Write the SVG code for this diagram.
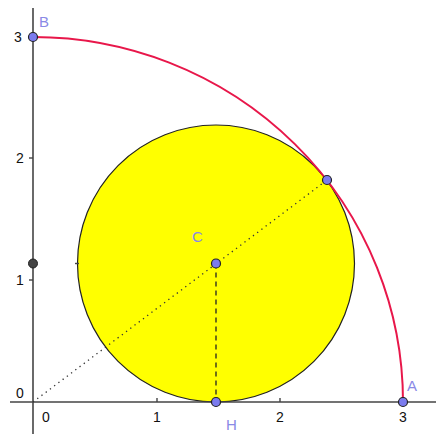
<svg xmlns="http://www.w3.org/2000/svg" width="436" height="434" viewBox="0 0 436 434">
<style>
.axis{stroke:#444;stroke-width:1.6;fill:none}
.tick{stroke:#444;stroke-width:1.4}
.num{font-family:"Liberation Sans",Arial,sans-serif;font-size:14px;fill:#111;text-anchor:middle}
.lbl{font-family:"Liberation Sans",Arial,sans-serif;font-size:15px;fill:#8a8ae6}
.pt{fill:#7b7bee;stroke:#222;stroke-width:1.2}
</style>
<rect width="436" height="434" fill="#fff"/>
<g id="circle"><circle cx="216" cy="263.5" r="138.5" fill="#ffff00" stroke="#222" stroke-width="1.2"/></g>
<g id="axes">
<line class="axis" x1="33" y1="8" x2="33" y2="434"/>
<line class="axis" x1="10" y1="402" x2="436" y2="402"/>
<line class="tick" x1="157" y1="398" x2="157" y2="402"/>
<line class="tick" x1="280" y1="398" x2="280" y2="402"/>
<line class="tick" x1="403" y1="398" x2="403" y2="402"/>
<line class="tick" x1="29" y1="158" x2="33" y2="158"/>
<line class="tick" x1="29" y1="280" x2="33" y2="280"/>
<line class="tick" x1="29" y1="37" x2="33" y2="37"/>
<line class="tick" x1="75" y1="263.5" x2="79" y2="263.5"/>
<text class="num" x="20" y="398">0</text>
<text class="num" x="46" y="422">0</text>
<text class="num" x="157" y="422">1</text>
<text class="num" x="280" y="422">2</text>
<text class="num" x="403" y="422">3</text>
<text class="num" x="20" y="285">1</text>
<text class="num" x="20" y="163">2</text>
<text class="num" x="18" y="42">3</text>
</g>
<g id="connectors">
<path d="M33,37 A370,365 0 0,1 403,402" fill="none" stroke="#e8174a" stroke-width="2"/>
<line x1="33" y1="402" x2="327" y2="180" stroke="#333" stroke-width="1.3" stroke-dasharray="1.3,4"/>
<line x1="216" y1="263.5" x2="216" y2="402" stroke="#222" stroke-width="1.3" stroke-dasharray="5,4"/>
</g>
<g id="point-B"><circle class="pt" cx="33" cy="37" r="4.5"/><text class="lbl" x="39" y="27">B</text></g>
<g id="point-A"><circle class="pt" cx="403" cy="402" r="4.5"/><text class="lbl" x="407" y="391">A</text></g>
<g id="point-C"><circle class="pt" cx="216" cy="263.5" r="4.5"/><text class="lbl" x="192" y="242">C</text></g>
<g id="point-H"><circle class="pt" cx="216" cy="402" r="4.5"/><text class="lbl" x="226" y="430">H</text></g>
<g id="point-T"><circle class="pt" cx="327" cy="180" r="4.5"/></g>
<g id="point-Y"><circle cx="33" cy="263.5" r="4.5" fill="#444" stroke="#222" stroke-width="1"/></g>
</svg>
